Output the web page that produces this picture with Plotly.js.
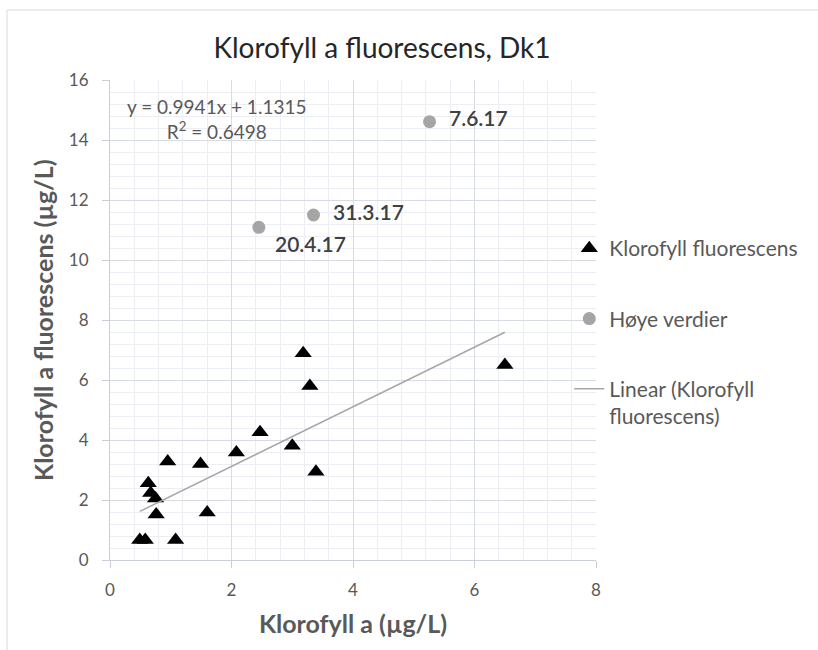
<!DOCTYPE html>
<html>
<head>
<meta charset="utf-8">
<script src="https://cdn.plot.ly/plotly-3.0.1.min.js"></script>
<style>
  html, body { margin: 0; padding: 0; background: #ffffff; }
  #chart { width: 818px; height: 650px; }
</style>
</head>
<body>
<div id="chart"></div>
<script>
// ---- Data ----
const fluorX = [0.49, 0.58, 1.08, 0.76, 1.60, 0.63, 0.67, 0.75, 0.95, 1.49, 2.08, 2.47, 3.00, 3.39, 3.18, 3.29, 6.50];
const fluorY = [0.67, 0.67, 0.67, 1.52, 1.58, 2.56, 2.23, 2.05, 3.28, 3.20, 3.58, 4.26, 3.81, 2.94, 6.89, 5.80, 6.50];

const highX = [5.26, 3.35, 2.45];
const highY = [14.61, 11.50, 11.09];
const highLabels = ["7.6.17", "31.3.17", "20.4.17"];

const trendSlope = 0.9941;
const trendIntercept = 1.1315;
const trendR2 = 0.6498;

const xTicks = [0, 2, 4, 6, 8];
const yTicks = [0, 2, 4, 6, 8, 10, 12, 14, 16];

const seriesNames = ["Klorofyll fluorescens", "Høye verdier", "Linear (Klorofyll<br>fluorescens)"];
const xTitle = "Klorofyll a (µg/L)";
const yTitle = "Klorofyll a fluorescens (µg/L)";

// ---- Derived ----
const xMin = Math.min(...fluorX), xMax = Math.max(...fluorX);
const trendX = [xMin, xMax];
const trendY = trendX.map(v => trendSlope * v + trendIntercept);

const FONT = "Lato, 'Open Sans', sans-serif";
const GREY = "#595959";

const traces = [
  {
    x: fluorX, y: fluorY, type: "scatter", mode: "markers",
    name: seriesNames[0], legendgroup: "a",
    marker: { symbol: "triangle-up", size: 15, color: "#000000" }
  },
  {
    x: highX, y: highY, type: "scatter", mode: "markers",
    name: seriesNames[1], legendgroup: "b",
    marker: { symbol: "circle", size: 13, color: "#a5a5a5" }
  },
  {
    x: trendX, y: trendY, type: "scatter", mode: "lines",
    name: seriesNames[2], legendgroup: "c",
    line: { color: "#a6a6a6", width: 1.5 }
  }
];

const labelShifts = [[17, 4], [17, 4], [14, -16]];
const annotations = highLabels.map((t, i) => ({
  x: highX[i], y: highY[i], xref: "x", yref: "y",
  text: t, showarrow: false, xanchor: "left", yanchor: "middle",
  xshift: labelShifts[i][0], yshift: labelShifts[i][1],
  font: { family: FONT, size: 21, color: "#404040", weight: 600 }
}));
annotations.push({
  x: 1.75, y: 14.7, xref: "x", yref: "y", showarrow: false,
  xanchor: "center", yanchor: "middle", align: "center",
  text: "y = " + trendSlope.toFixed(4) + "x + " + trendIntercept.toFixed(4) +
        "<br>R<sup>2</sup> = " + trendR2.toFixed(4),
  font: { family: FONT, size: 19, color: GREY }
});
// y-axis title
annotations.push({
  x: (43 - 110) / 486, y: 0.5, xref: "paper", yref: "paper",
  xanchor: "center", yanchor: "middle", textangle: -90, showarrow: false,
  text: yTitle,
  font: { family: FONT, size: 25, color: GREY, weight: "bold" }
});

const axisCommon = {
  showline: true, linecolor: "#c9ced8", linewidth: 1,
  ticks: "outside", ticklen: 7, tickcolor: "#c9ced8",
  showgrid: true, gridcolor: "#d6dbe4", gridwidth: 1,
  zeroline: false,
  tickfont: { family: FONT, size: 17, color: GREY },
  minor: { dtick: 0.4, showgrid: true, gridcolor: "#eceef3", gridwidth: 1, ticks: "" },
  fixedrange: true
};

const layout = {
  width: 818, height: 650,
  margin: { l: 110, r: 222, t: 80, b: 90 },
  paper_bgcolor: "#ffffff", plot_bgcolor: "#ffffff",
  font: { family: FONT, color: GREY },
  title: {
    text: "Klorofyll a fluorescens, Dk1",
    x: 382 / 818, xref: "container", xanchor: "center",
    y: 1 - 48 / 650, yref: "container", yanchor: "middle",
    font: { family: FONT, size: 28, color: "#262626" }
  },
  xaxis: Object.assign({}, axisCommon, {
    range: [0, 8], tickvals: xTicks, ticktext: xTicks.map(String),
    ticklabelstandoff: 8,
    title: { text: xTitle, standoff: 16,
             font: { family: FONT, size: 25, color: GREY, weight: "bold" } }
  }),
  yaxis: Object.assign({}, axisCommon, {
    range: [0, 16], tickvals: yTicks, ticktext: yTicks.map(String),
    ticklabelstandoff: 10
  }),
  showlegend: true,
  legend: {
    x: 0.945, xanchor: "left", y: 0.6915, yanchor: "top",
    font: { family: FONT, size: 21, color: GREY },
    tracegroupgap: 40, traceorder: "grouped", valign: "top",
    bgcolor: "rgba(0,0,0,0)", itemwidth: 30
  },
  annotations: annotations,
  shapes: [
    { type: "line", xref: "paper", yref: "paper",
      x0: (7 - 110) / 486, x1: (830 - 110) / 486,
      y0: (560 - 10) / 480, y1: (560 - 10) / 480,
      line: { color: "#d9d9d9", width: 1 } },
    { type: "line", xref: "paper", yref: "paper",
      x0: (7 - 110) / 486, x1: (7 - 110) / 486,
      y0: (560 - 10) / 480, y1: (560 - 660) / 480,
      line: { color: "#d9d9d9", width: 1 } }
  ]
};

Plotly.newPlot("chart", traces, layout, { displayModeBar: false, staticPlot: true });
</script>
</body>
</html>
